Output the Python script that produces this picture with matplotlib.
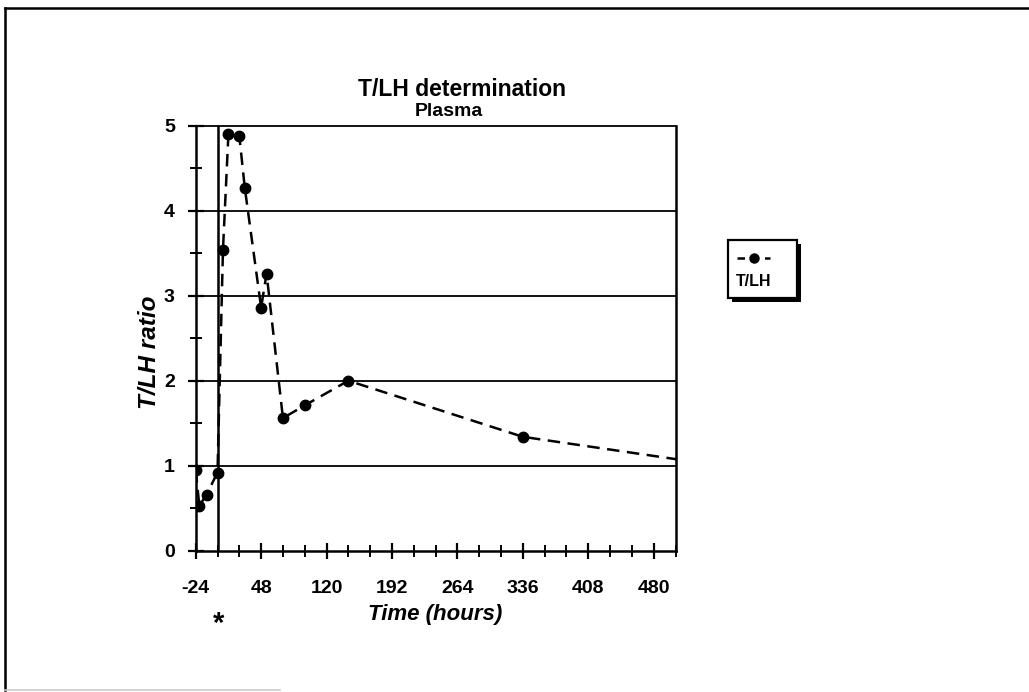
import matplotlib
matplotlib.use("Agg")
import matplotlib.pyplot as plt
from matplotlib.lines import Line2D
from matplotlib.patches import Rectangle
from matplotlib.ticker import MultipleLocator, FixedLocator

plt.rcParams['font.family'] = ['Liberation Sans', 'DejaVu Sans']
plt.rcParams['axes.unicode_minus'] = False

# T/LH ratio in plasma over time (hours relative to treatment)
time_hours = [-24, -20, -12, 0, 6, 12, 24, 30, 48, 54, 72, 96, 144, 336, 528]
tlh_ratio = [0.95, 0.53, 0.66, 0.92, 3.54, 4.90, 4.88, 4.27, 2.86, 3.26,
             1.56, 1.71, 2.00, 1.34, 1.04]
x_ticks = [-24, 48, 120, 192, 264, 336, 408, 480]
y_ticks = [0, 1, 2, 3, 4, 5]
series_name = "T/LH"

W, H = 1029, 692
fig = plt.figure(figsize=(W / 100, H / 100), dpi=100)
fig.patch.set_facecolor('white')

ax = fig.add_axes([195.7 / W, 1 - 550.7 / H, 479.8 / W, 425 / H])
ax.set_xlim(-24, 504)
ax.set_ylim(0, 5)

# horizontal grid and the treatment marker line at t = 0
for yv in y_ticks[1:-1]:
    ax.axhline(yv, color='black', lw=1.3, zorder=1)
ax.axvline(0, color='black', lw=1.8, zorder=1)

ax.plot(time_hours, tlh_ratio, color='black', lw=1.8, ls=(0, (5, 3)),
        marker='o', ms=7.5, mfc='black', mec='black', zorder=3,
        clip_on=True)

for side in ['left', 'bottom', 'top', 'right']:
    ax.spines[side].set_linewidth(1.8)
ax.spines['top'].set_linewidth(1.3)

ax.xaxis.set_major_locator(FixedLocator(x_ticks))
ax.xaxis.set_minor_locator(MultipleLocator(24))
ax.yaxis.set_major_locator(FixedLocator(y_ticks))
ax.yaxis.set_minor_locator(MultipleLocator(0.5))

ax.tick_params(axis='both', which='major', direction='inout', length=12,
               width=1.6, labelsize=14)
ax.tick_params(axis='both', which='minor', direction='inout', length=8,
               width=1.4)
ax.tick_params(axis='x', which='major', pad=15)
ax.tick_params(axis='y', which='major', pad=9)
ax.tick_params(top=False, right=False, which='both')
for lab in ax.get_xticklabels() + ax.get_yticklabels():
    lab.set_fontweight('bold')

ax.set_xlabel("Time (hours)", fontsize=16, fontweight='bold', style='italic')
ax.set_ylabel("T/LH ratio", fontsize=17.5, fontweight='bold', style='italic')
ax.xaxis.set_label_coords(0.5, -0.151)
ax.xaxis.label.set_va('center')
ax.yaxis.set_label_coords(-0.097, 0.4675)
ax.yaxis.label.set_va('center')

fig.text(462 / W, 1 - 90 / H, "T/LH determination", ha='center', va='center',
         fontsize=16.5, fontweight='bold')
fig.text(449 / W, 1 - 112 / H, "Plasma", ha='center', va='center',
         fontsize=14, fontweight='bold')
fig.text(219 / W, 1 - 624 / H, "*", ha='center', va='center',
         fontsize=21, fontweight='bold')

# legend box with drop shadow
lx0, ly0, lx1, ly1 = 728, 240, 797, 298
fig.add_artist(Rectangle(((lx0 + 4) / W, 1 - (ly1 + 4) / H),
                         (lx1 - lx0) / W, (ly1 - ly0) / H,
                         transform=fig.transFigure, facecolor='black',
                         edgecolor='black', lw=0))
fig.add_artist(Rectangle((lx0 / W, 1 - ly1 / H), (lx1 - lx0) / W,
                         (ly1 - ly0) / H, transform=fig.transFigure,
                         facecolor='white', edgecolor='black', lw=1.6))
fig.add_artist(Line2D([737 / W, 770 / W], [1 - 258 / H, 1 - 258 / H],
                      transform=fig.transFigure, color='black', lw=1.8,
                      ls=(0, (3, 2.5))))
fig.add_artist(Line2D([753.5 / W], [1 - 258 / H], transform=fig.transFigure,
                      color='black', marker='o', ms=6.5, ls='none'))
fig.text(736 / W, 1 - 281 / H, series_name, ha='left', va='center',
         fontsize=11.5, fontweight='bold')

# page border
fig.add_artist(Line2D([5 / W, 5 / W], [1 - 8 / H, 1 - 690 / H],
                      transform=fig.transFigure, color='black', lw=1.8))
fig.add_artist(Line2D([5 / W, 1.0], [1 - 8 / H, 1 - 8 / H],
                      transform=fig.transFigure, color='black', lw=1.8))
fig.add_artist(Line2D([5 / W, 280 / W], [1 - 690 / H, 1 - 690 / H],
                      transform=fig.transFigure, color='#cccccc', lw=1.2))

fig.savefig("out.png", dpi=100, facecolor='white')
